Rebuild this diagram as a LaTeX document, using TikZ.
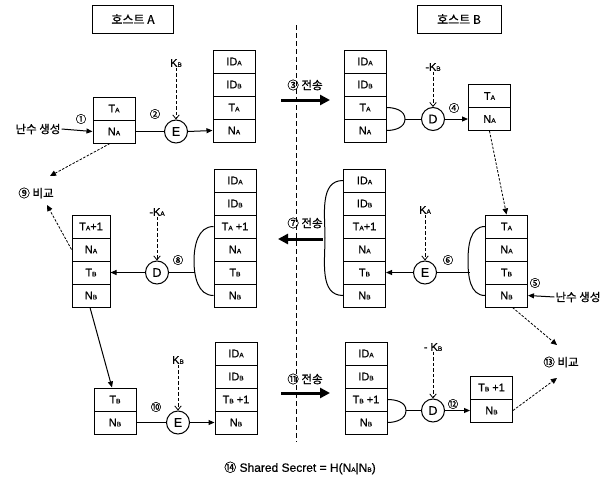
\documentclass[tikz,border=0pt]{standalone}
\usepackage{fontspec}
\setmainfont{Liberation Sans}[FakeBold=0.6, AutoFakeBold=0.6]
\newfontfamily\kr{Noto Sans CJK KR}[FakeBold=0.8, AutoFakeBold=0.8]
\usetikzlibrary{arrows.meta,calc}
\newcommand\sbs[1]{{\fontsize{6.5}{7}\selectfont #1}}
\begin{document}
\begin{tikzpicture}[x=1pt,y=-1pt,
  cell/.style={draw, line width=1pt, minimum width=42pt, minimum height=23pt, inner sep=0pt, font=\bfseries\fontsize{11}{12}\selectfont},
  ncell/.style={cell, minimum width=38pt},
  op/.style={draw, line width=1pt, circle, minimum size=23pt, inner sep=0pt, font=\bfseries\fontsize{12.5}{13}\selectfont},
  host/.style={draw, line width=1pt, minimum height=28pt, inner sep=0pt, font=\kr\bfseries\fontsize{12}{13}\selectfont},
  lbl/.style={inner sep=1pt, font=\bfseries\fontsize{11}{12}\selectfont},
  num/.style={inner sep=0pt, font=\kr\bfseries\fontsize{10.5}{11}\selectfont},
  krl/.style={inner sep=1pt, font=\kr\bfseries\fontsize{11.5}{12}\selectfont},
  flow/.style={line width=1pt, -{Triangle[length=6pt,width=5pt]}},
  link/.style={line width=1pt},
  keyarr/.style={line width=0.8pt, dash pattern=on 3.5pt off 2pt, -{Straight Barb[length=4pt,width=6.5pt]}},
  cmp/.style={line width=0.8pt, dash pattern=on 2.5pt off 1.5pt, -{Triangle[length=6pt,width=5.5pt]}},
  xfer/.style={line width=3pt, -{Triangle[length=10pt,width=10pt]}}
]
\useasboundingbox (0,0) rectangle (611,482);

% hosts
\node[host, minimum width=81pt] (hA) at (133,19) {호스트 A};
\node[host, minimum width=84pt] (hB) at (459,19) {호스트 B};
\coordinate (sepT) at (296,25);
\coordinate (sepB) at (296,442);
\draw[line width=0.9pt, dash pattern=on 5pt off 3pt] (sepT) -- (sepB);

% ---------- row 1, host A ----------
\node[cell] (a1t) at (114,108.5) {T\sbs{A}};
\node[cell] (a1n) at (114,131.5) {N\sbs{A}};
\node[krl] (rndA) at (38,129) {난수 생성};
\node[num] at (81,119) {①};
\draw[flow] (rndA.east) -- (a1n.west);
\node[op] (E1) at (176,131.5) {E};
\node[lbl] (kb1) at (176,63) {K\sbs{B}};
\node[num] at (155,114) {②};
\draw[keyarr] (kb1.south) -- (E1.north);
\node[cell] (a2i) at (234,61.5) {ID\sbs{A}};
\node[cell] (a2j) at (234,84.5) {ID\sbs{B}};
\node[cell] (a2t) at (234,107.5) {T\sbs{A}};
\node[cell] (a2n) at (234,130.5) {N\sbs{A}};
\draw[link] (a1n.east) -- (E1.west);
\draw[flow] (E1.east) -- (a2n.west);

% transfer 3
\node[krl] (t3) at (305,85) {③ 전송};
\coordinate (t3s) at (281,100);
\coordinate (t3e) at (330,100);
\draw[xfer] (t3s) -- (t3e);

% ---------- row 1, host B ----------
\node[cell] (b1i) at (365,61.5) {ID\sbs{A}};
\node[cell] (b1j) at (365,84.5) {ID\sbs{B}};
\node[cell] (b1t) at (365,107.5) {T\sbs{A}};
\node[cell] (b1n) at (365,130.5) {N\sbs{A}};
\coordinate (c1) at (405,119);
\draw[link] (b1t.east) to[out=0,in=90] (c1) to[out=-90,in=0] (b1n.east);
\node[op] (D1) at (433,119) {D};
\draw[link] (c1) -- (D1.west);
\node[lbl] (kb2) at (433,67) {-K\sbs{B}};
\draw[keyarr] (kb2.south) -- (D1.north);
\node[num] at (454,108) {④};
\node[cell] (b2t) at (489.5,96) {T\sbs{A}};
\node[cell] (b2n) at (489.5,119) {N\sbs{A}};
\draw[flow] (D1.east) -- (b2n.west);

% ---------- row 2, host B ----------
\node[cell] (b3t) at (506.5,226.5) {T\sbs{A}};
\node[cell] (b3n) at (506.5,249.5) {N\sbs{A}};
\node[cell] (b3tb) at (506.5,272.5) {T\sbs{B}};
\node[cell] (b3nb) at (506.5,295.5) {N\sbs{B}};
\draw[cmp] (b2n.south) -- (b3t.north);
\coordinate (c2) at (468,261);
\coordinate (c2b) at (469.5,272.5);
\draw[link] (b3t.west) to[out=180,in=90] (c2) to[out=-90,in=180] (b3nb.west);
\node[num] at (535,283) {⑤};
\node[krl] (rndB) at (578,297) {난수 생성};
\draw[flow] (rndB.west) -- (b3nb.east);
\node[op] (E2) at (425,272.5) {E};
\draw[link] (c2b) -- (E2.east);
\node[lbl] (ka1) at (425,210) {K\sbs{A}};
\draw[keyarr] (ka1.south) -- (E2.north);
\node[num] at (448,260) {⑥};
\node[cell] (b4i) at (364.5,180.5) {ID\sbs{A}};
\node[cell] (b4j) at (364.5,203.5) {ID\sbs{B}};
\node[cell] (b4t) at (364.5,226.5) {T\sbs{A}+1};
\node[cell] (b4n) at (364.5,249.5) {N\sbs{A}};
\node[cell] (b4tb) at (364.5,272.5) {T\sbs{B}};
\node[cell] (b4nb) at (364.5,295.5) {N\sbs{B}};
\draw[flow] (E2.west) -- (b4tb.east);
\coordinate (c3) at (325,238);
\draw[link] (b4i.west) to[out=180,in=90] (c3) to[out=-90,in=180] (b4nb.west);

% transfer 7
\node[krl] (t7) at (305,223) {⑦ 전송};
\coordinate (t7s) at (323,239);
\coordinate (t7e) at (278,239);
\draw[xfer] (t7s) -- (t7e);

% ---------- row 2, host A ----------
\node[cell] (a3i) at (235,180.5) {ID\sbs{A}};
\node[cell] (a3j) at (235,203.5) {ID\sbs{B}};
\node[cell] (a3t) at (235,226.5) {T\sbs{A} +1};
\node[cell] (a3n) at (235,249.5) {N\sbs{A}};
\node[cell] (a3tb) at (235,272.5) {T\sbs{B}};
\node[cell] (a3nb) at (235,295.5) {N\sbs{B}};
\coordinate (c4) at (194,261);
\coordinate (c4b) at (195.2,272.5);
\draw[link] (a3t.west) to[out=180,in=90] (c4) to[out=-90,in=180] (a3nb.west);
\node[op] (D2) at (157,272.5) {D};
\draw[link] (c4b) -- (D2.east);
\node[lbl] (ka2) at (157,212) {-K\sbs{A}};
\draw[keyarr] (ka2.south) -- (D2.north);
\node[num] at (178,260) {⑧};
\node[ncell] (a4t) at (91,226.5) {T\sbs{A}+1};
\node[ncell] (a4n) at (91,249.5) {N\sbs{A}};
\node[ncell] (a4tb) at (91,272.5) {T\sbs{B}};
\node[ncell] (a4nb) at (91,295.5) {N\sbs{B}};
\draw[flow] (D2.west) -- (a4tb.east);

% compare 9
\node[krl] (cmp9) at (36,193) {⑨ 비교};
\coordinate (cmp9a) at (50,176);
\coordinate (cmp9b) at (47,205);
\draw[cmp] ($(a1n.south)+(-4,0)$) -- (cmp9a);
\draw[cmp] (a4n.west) -- (cmp9b);

% ---------- row 3, host A ----------
\node[cell] (a5t) at (115,399.5) {T\sbs{B}};
\node[cell] (a5n) at (115,422.5) {N\sbs{B}};
\draw[flow] ($(a4nb.south)+(-1,0)$) -- ($(a5t.north)+(-3,0)$);
\node[op] (E3) at (178,422.5) {E};
\node[lbl] (kb3) at (178,360) {K\sbs{B}};
\draw[keyarr] (kb3.south) -- (E3.north);
\node[num] at (156,407) {⑩};
\node[cell] (a6i) at (236,353.5) {ID\sbs{A}};
\node[cell] (a6j) at (236,376.5) {ID\sbs{B}};
\node[cell] (a6t) at (236,399.5) {T\sbs{B} +1};
\node[cell] (a6n) at (236,422.5) {N\sbs{B}};
\draw[link] (a5n.east) -- (E3.west);
\draw[flow] (E3.east) -- (a6n.west);

% transfer 11
\node[krl] (t11) at (305,379) {⑪ 전송};
\coordinate (t11s) at (281,393);
\coordinate (t11e) at (330,393);
\draw[xfer] (t11s) -- (t11e);

% ---------- row 3, host B ----------
\node[cell] (b5i) at (366,353.5) {ID\sbs{A}};
\node[cell] (b5j) at (366,376.5) {ID\sbs{B}};
\node[cell] (b5t) at (366,399.5) {T\sbs{B} +1};
\node[cell] (b5n) at (366,422.5) {N\sbs{B}};
\coordinate (c5) at (406,410.5);
\draw[link] (b5t.east) to[out=0,in=90] (c5) to[out=-90,in=0] (b5n.east);
\node[op] (D3) at (433,410.5) {D};
\draw[link] (c5) -- (D3.west);
\node[lbl] (kb4) at (433,347) {- K\sbs{B}};
\draw[keyarr] (kb4.south) -- (D3.north);
\node[num] at (453,404) {⑫};
\node[cell] (b6t) at (491.5,387.5) {T\sbs{B} +1};
\node[cell] (b6n) at (491.5,410.5) {N\sbs{B}};
\draw[flow] (D3.east) -- (b6n.west);

% compare 13
\node[krl] (cmp13) at (561,362) {⑬ 비교};
\coordinate (cmp13a) at (557,345);
\coordinate (cmp13b) at (557,378);
\draw[cmp] ($(b3nb.south)+(6,0)$) -- (cmp13a);
\draw[cmp] (b6n.east) -- (cmp13b);

% shared secret
\node[lbl, font=\bfseries\fontsize{12}{13}\selectfont] (ss) at (300,468) {{\kr\bfseries ⑭} Shared Secret = H(N\sbs{A}|N\sbs{B})};
\end{tikzpicture}
\end{document}
